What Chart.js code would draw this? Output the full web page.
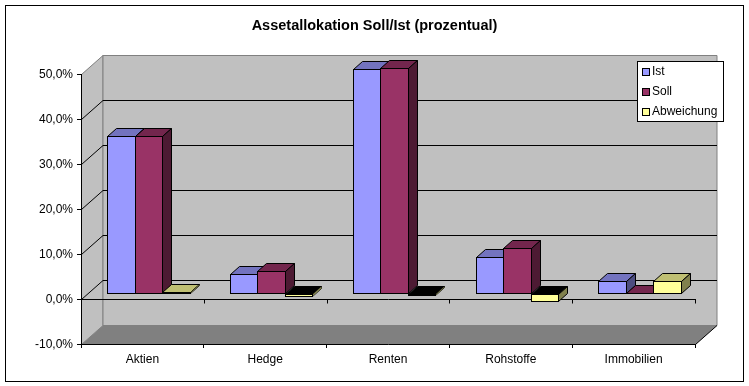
<!DOCTYPE html>
<html>
<head>
<meta charset="utf-8">
<title>Assetallokation</title>
<style>
    html, body { margin: 0; padding: 0; background: #fff; }
    canvas { display: block; }
</style>
<script src="https://cdn.jsdelivr.net/npm/chart.js@4/dist/chart.umd.min.js"></script>
</head>
<body>
<canvas id="chart" width="749" height="386"></canvas>
<script>
let categories = ['Aktien', 'Hedge', 'Renten', 'Rohstoffe', 'Immobilien'];
let ist = [35.0, 4.2, 49.8, 8.0, 2.7];
let soll = [34.8, 4.8, 50.0, 10.0, 0];
let abweichung = [0.2, -0.6, -0.4, -1.8, 2.7];

let fontName = '"Liberation Sans", Arial, sans-serif';
let wall = { dx: 21.5, dy: -19 };   // depth of the walls
let shift = { dx: 6, dy: -6 };      // bars stand a bit behind the front plane
let depth = { dx: 9, dy: -8 };      // depth of one bar

let colors = [
    { front: '#9999ff', top: '#7373bf', side: '#4d4d80' },
    { front: '#993366', top: '#73264d', side: '#4d1a33' },
    { front: '#ffff99', top: '#bfbf73', side: '#80804d' }
];

function poly(ctx, points, fill, stroke) {
    ctx.beginPath();
    points.forEach(function (p, i) {
        if (i === 0) ctx.moveTo(p[0], p[1]);
        else ctx.lineTo(p[0], p[1]);
    });
    ctx.closePath();
    if (fill) {
        ctx.fillStyle = fill;
        ctx.fill();
    }
    if (stroke) {
        ctx.strokeStyle = stroke;
        ctx.lineWidth = 1;
        ctx.stroke();
    }
}

function line(ctx, x1, y1, x2, y2, color) {
    ctx.beginPath();
    ctx.moveTo(x1, y1);
    ctx.lineTo(x2, y2);
    ctx.strokeStyle = color;
    ctx.lineWidth = 1;
    ctx.stroke();
}

function drawWalls(chart) {
    let ctx = chart.ctx;
    let area = chart.chartArea;
    let yScale = chart.scales.y;
    let left = area.left + 0.5;
    let right = area.right + 0.5;
    let top = area.top + 0.5;
    let bottom = area.bottom + 0.5;
    let bx = left + wall.dx;
    let rx = right + wall.dx;

    // left wall, back wall, floor
    poly(ctx, [[left, top], [bx, top + wall.dy], [bx, bottom + wall.dy], [left, bottom]], '#c0c0c0', '#808080');
    poly(ctx, [[bx, top + wall.dy], [rx, top + wall.dy], [rx, bottom + wall.dy], [bx, bottom + wall.dy]], '#c0c0c0', '#808080');
    poly(ctx, [[left, bottom], [bx, bottom + wall.dy], [rx, bottom + wall.dy], [right, bottom]], '#808080', null);
    line(ctx, right, bottom, rx, bottom + wall.dy, '#000');

    yScale.ticks.forEach(function (tick) {
        if (tick.value === yScale.min || tick.value === yScale.max) return;
        let y = Math.round(yScale.getPixelForValue(tick.value)) + 0.5;
        line(ctx, left, y, bx, y + wall.dy, '#000');
        line(ctx, bx, y + wall.dy, rx, y + wall.dy, '#000');
    });
}

function drawZeroAxis(chart) {
    let ctx = chart.ctx;
    let area = chart.chartArea;
    let y = Math.round(chart.scales.y.getPixelForValue(0)) + 0.5;
    line(ctx, area.left, y, area.right + 1, y, '#000');
    for (let i = 1; i <= categories.length; i++) {
        let x = Math.round(area.left + i * (area.right - area.left) / categories.length) + 0.5;
        line(ctx, x, y, x, y + 4, '#000');
    }
}

function drawBarFaces(chart, meta, index) {
    let ctx = chart.ctx;
    let c = colors[index];
    meta.data.forEach(function (bar, i) {
        let value = chart.data.datasets[index].data[i];
        let l = bar.x - bar.width / 2 + 0.5;
        let r = bar.x + bar.width / 2 - 0.5;
        let t = Math.min(bar.y, bar.base) + 0.5;
        let b = Math.max(bar.y, bar.base) - 0.5;
        let side = [[r, t], [r + depth.dx, t + depth.dy], [r + depth.dx, b + depth.dy], [r, b]];
        // tops of bars below zero show up black
        let topColor = value < 0 ? '#000' : c.top;
        poly(ctx, [[l, t], [l + depth.dx, t + depth.dy], [r + depth.dx, t + depth.dy], [r, t]], topColor, '#000');
        if (b - t < 6) {
            // very low bar, the outline would swallow the side
            poly(ctx, side, null, '#000');
            poly(ctx, side, c.side, null);
        } else {
            poly(ctx, side, c.side, '#000');
        }
    });
}

function drawLegend(chart) {
    let ctx = chart.ctx;
    ctx.save();
    ctx.fillStyle = '#fff';
    ctx.fillRect(637.5, 61.5, 86, 60);
    ctx.strokeStyle = '#000';
    ctx.lineWidth = 1;
    ctx.strokeRect(637.5, 61.5, 86, 60);
    ctx.font = '12px ' + fontName;
    ctx.textBaseline = 'middle';
    chart.data.datasets.forEach(function (ds, i) {
        let y = 68 + i * 20;
        ctx.fillStyle = colors[i].front;
        ctx.fillRect(642.5, y + 0.5, 7, 7);
        ctx.strokeStyle = '#000';
        ctx.strokeRect(642.5, y + 0.5, 7, 7);
        ctx.fillStyle = '#000';
        ctx.fillText(ds.label, 652, y + 4);
    });
    ctx.restore();
}

let excel3d = {
    id: 'excel3d',
    // title is centered on the whole frame, not on the padded area
    afterLayout: function (chart) {
        chart.titleBlock.right = chart.width;
    },
    beforeDraw: function (chart) {
        let ctx = chart.ctx;
        ctx.save();
        ctx.fillStyle = '#fff';
        ctx.fillRect(0, 0, chart.width, chart.height);
        ctx.strokeStyle = '#000';
        ctx.lineWidth = 1;
        ctx.strokeRect(5.5, 5.5, 738, 376);
        drawWalls(chart);
        ctx.restore();
    },
    // snap the bars on whole pixels, neighbours share one border line
    afterDatasetsUpdate: function (chart) {
        chart.getSortedVisibleDatasetMetas().forEach(function (meta) {
            meta.data.forEach(function (bar) {
                let half = bar.width / 2;
                let left = Math.round(bar.x - half);
                let right = Math.round(bar.x + half) + 1;
                let top = Math.round(Math.min(bar.y, bar.base));
                let bottom = Math.round(Math.max(bar.y, bar.base)) + 1;
                let negative = bar.y > bar.base;
                bar.x = (left + right) / 2;
                bar.width = right - left;
                bar.y = negative ? bottom : top;
                bar.base = negative ? top : bottom;
            });
        });
    },
    // series go left to right so later bars cover earlier ones
    beforeDatasetsDraw: function (chart) {
        let ctx = chart.ctx;
        ctx.save();
        drawZeroAxis(chart);
        ctx.translate(shift.dx, shift.dy);
        for (let i = 0; i < chart.data.datasets.length; i++) {
            let meta = chart.getDatasetMeta(i);
            drawBarFaces(chart, meta, i);
            meta.controller.draw();
        }
        ctx.restore();
        return false;
    },
    afterDraw: drawLegend
};

new Chart(document.getElementById('chart').getContext('2d'), {
    type: 'bar',
    data: {
        labels: categories,
        datasets: [
            { label: 'Ist', data: ist, backgroundColor: colors[0].front },
            { label: 'Soll', data: soll, backgroundColor: colors[1].front },
            { label: 'Abweichung', data: abweichung, backgroundColor: colors[2].front }
        ]
    },
    options: {
        responsive: false,
        animation: false,
        layout: { padding: { left: 0, right: 54, top: 0, bottom: 0 } },
        datasets: {
            bar: {
                borderColor: '#000',
                borderWidth: 1,
                borderSkipped: false,
                inflateAmount: 0,
                barPercentage: 1,
                categoryPercentage: 0.672
            }
        },
        plugins: {
            legend: { display: false },
            tooltip: { enabled: false },
            title: {
                display: true,
                text: 'Assetallokation Soll/Ist (prozentual)',
                color: '#000',
                font: { family: fontName, size: 14.5, weight: 'bold' },
                padding: { top: 17, bottom: 39.6 }
            }
        },
        scales: {
            x: {
                afterFit: function (scale) { scale.height = 42; },
                grid: { drawOnChartArea: false, color: '#000', tickLength: 4 },
                border: { color: '#000' },
                ticks: { color: '#000', padding: 4, maxRotation: 0, font: { family: fontName, size: 12 } }
            },
            y: {
                min: -10,
                max: 50,
                afterFit: function (scale) { scale.width = 81; },
                grid: { drawOnChartArea: false, color: '#000', tickLength: 4 },
                border: { color: '#000' },
                ticks: {
                    stepSize: 10,
                    color: '#000',
                    padding: 4,
                    labelOffset: 1,
                    font: { family: fontName, size: 12 },
                    callback: function (v) { return v.toFixed(1).replace('.', ',') + '%'; }
                }
            }
        }
    },
    plugins: [excel3d]
});
</script>
</body>
</html>
